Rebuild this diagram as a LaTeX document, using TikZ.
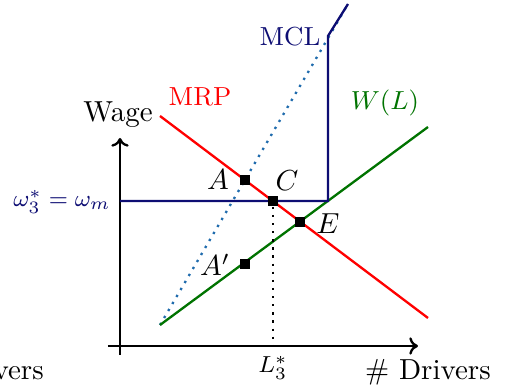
\documentclass[tikz,border=0pt]{standalone}
\usetikzlibrary{arrows.meta}
\definecolor{navyc}{rgb}{0.05,0.05,0.45}
\definecolor{greenc}{rgb}{0,0.45,0}
\definecolor{dotc}{rgb}{0.12,0.42,0.68}
\begin{document}
\begin{tikzpicture}[x=0.345pt,y=-0.345pt,
  pt/.style={fill=black,minimum size=3.6pt,inner sep=0pt,draw=none,rectangle},
  axis/.style={thick,-{To[length=3pt,width=6pt]}},
  lab/.style={inner sep=1pt}]
\useasboundingbox (0,0) rectangle (511,391);
% axes
\coordinate (o1) at (120,355);
\coordinate (ytop) at (120,138);
\coordinate (o2) at (108,346);
\coordinate (xend) at (418,346);
\draw[axis] (o1) -- (ytop);
\draw[axis] (o2) -- (xend);
\node[lab] (wage) at (118,115) {Wage};
\node[lab] (xl) at (428,372) {\# Drivers};
\node[lab] (xl2) at (-19,372) {\# Drivers};
% curves
\coordinate (mrp1) at (160,116);
\coordinate (mrp2) at (428,318);
\coordinate (w1) at (160,325);
\coordinate (w2) at (428,127);
\coordinate (d2) at (348,4);
\coordinate (k) at (328,36);
\coordinate (h0) at (120,201);
\coordinate (h1) at (328,201);
\draw[dotc,thick,dotted] (w1) -- (d2);
\draw[red,thick] (mrp1) -- (mrp2);
\draw[greenc,thick] (w1) -- (w2);
\draw[navyc,thick] (h0) -- (h1) -- (k) -- (d2);
% points
\node[pt] (A) at (245,180) {};
\node[pt] (C) at (273,201) {};
\node[pt] (E) at (300,222) {};
\node[pt] (Ap) at (245,264) {};
\coordinate (Lx) at (273,346);
\draw[thick,dotted] (C) -- (Lx);
\node[lab] (Al) at (218,180) {$A$};
\node[lab] (Cl) at (287,181) {$C$};
\node[lab] (El) at (328,224) {$E$};
\node[lab] (Apl) at (215,265) {$A'$};
\node[lab] (Ll) at (273,368) {\footnotesize$L_3^*$};
\node[lab,navyc] (wl) at (62,202) {\footnotesize$\omega_3^*=\omega_m$};
\node[lab,navyc] (mcl) at (290,37) {\small MCL};
\node[lab,red] (mrpl) at (200,97) {\small MRP};
\node[lab,greenc] (wll) at (385,103) {\small$W(L)$};
\end{tikzpicture}
\end{document}
